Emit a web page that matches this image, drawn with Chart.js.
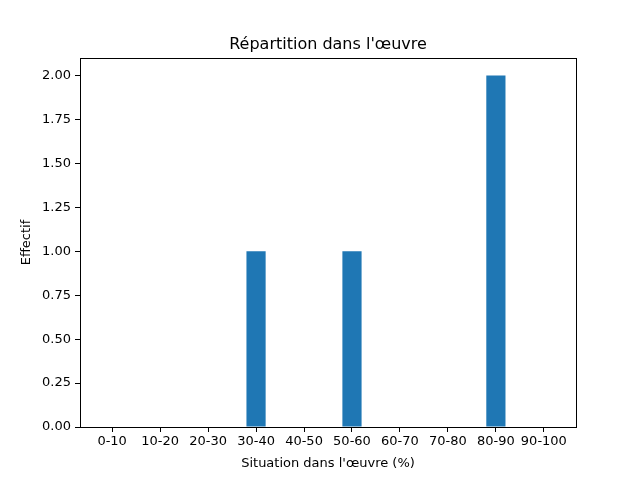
<!DOCTYPE html>
<html>
<head>
<meta charset="utf-8">
<script src="https://cdn.jsdelivr.net/npm/chart.js@4/dist/chart.umd.min.js"></script>
<style>
  html, body { margin: 0; padding: 0; background: #fff; }
  #wrap { width: 640px; height: 480px; }
</style>
</head>
<body>
<div id="wrap"><canvas id="repartition" width="640" height="480"></canvas></div>
<script>
// categories and counts
const tranches = ["0-10", "10-20", "20-30", "30-40", "40-50", "50-60", "60-70", "70-80", "80-90", "90-100"];
const effectifs = [0, 0, 0, 1, 0, 1, 0, 0, 2, 0];
const yTicks = [0, 0.25, 0.5, 0.75, 1, 1.25, 1.5, 1.75, 2];

const font = "'DejaVu Sans', sans-serif";
Chart.defaults.font.family = font;
Chart.defaults.color = "#000";

// full frame round the axes + title centred over the plot, like matplotlib
const frame = {
    id: "frame",
    afterLayout(chart) {
        const t = chart.titleBlock, a = chart.chartArea;
        if (t) {
            t.left = a.left;
            t.right = a.right;
            t.width = a.right - a.left;
        }
    },
    afterDraw(chart) {
        const { ctx, chartArea: a } = chart;
        ctx.save();
        ctx.strokeStyle = "#000";
        ctx.lineWidth = 1;
        ctx.strokeRect(Math.round(a.left) + 0.5, Math.round(a.top) + 0.5,
            Math.round(a.right - a.left), Math.round(a.bottom - a.top));
        ctx.restore();
    }
};

new Chart(document.getElementById("repartition"), {
    type: "bar",
    data: {
        datasets: [{
            data: effectifs.map((v, i) => ({ x: i, y: v })),
            backgroundColor: "#1f77b4",
            borderWidth: 0,
            inflateAmount: 0,
            categoryPercentage: 1,
            barPercentage: 0.4
        }]
    },
    options: {
        responsive: false,
        animation: false,
        layout: { padding: { left: 0, right: 64, top: 0, bottom: 0 } },
        plugins: {
            legend: { display: false },
            tooltip: { enabled: false },
            title: {
                display: true,
                text: "Répartition dans l'œuvre",
                font: { size: 16, weight: "normal" },
                padding: { top: 35, bottom: 3.8 }
            }
        },
        scales: {
            x: {
                type: "linear",
                offset: false,
                min: -0.67,
                max: 9.67,
                afterBuildTicks: s => { s.ticks = tranches.map((t, i) => ({ value: i })); },
                afterFit: s => { s.height = 53; },
                ticks: {
                    callback: v => tranches[v],
                    font: { size: 13 },
                    maxRotation: 0,
                    autoSkip: false,
                    padding: 2
                },
                grid: { offset: false, drawOnChartArea: false, tickLength: 5, color: "#000" },
                border: { color: "#000" },
                title: {
                    display: true,
                    text: "Situation dans l'œuvre (%)",
                    font: { size: 13 },
                    padding: { top: 3, bottom: 9 }
                }
            },
            y: {
                min: 0,
                max: 2.1,
                afterBuildTicks: s => { s.ticks = yTicks.map(v => ({ value: v })); },
                afterFit: s => { s.width = 80; },
                ticks: {
                    callback: v => v.toFixed(2),
                    font: { size: 13 },
                    padding: 4
                },
                grid: { drawOnChartArea: false, tickLength: 5, color: "#000" },
                border: { color: "#000" },
                title: {
                    display: true,
                    text: "Effectif",
                    font: { size: 13 },
                    padding: { top: 19, bottom: 4 }
                }
            }
        }
    },
    plugins: [frame]
});
</script>
</body>
</html>
